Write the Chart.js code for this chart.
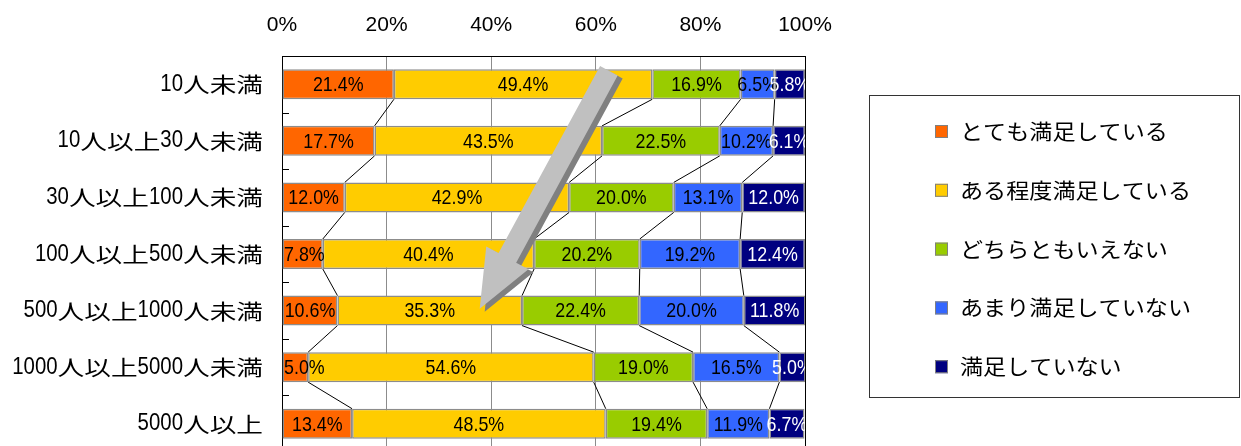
<!DOCTYPE html>
<html>
<head>
<meta charset="utf-8">
<script src="https://cdn.jsdelivr.net/npm/chart.js@4"></script>
<style>
  html, body { margin: 0; padding: 0; background: #fff; overflow: hidden; }
  canvas { display: block; }
</style>
</head>
<body>
<canvas id="myChart" width="1241" height="452"></canvas>
<script>
// companies by number of employees
const categories = ['10人未満', '10人以上30人未満', '30人以上100人未満', '100人以上500人未満',
    '500人以上1000人未満', '1000人以上5000人未満', '5000人以上']

const verySatisfied = [21.4, 17.7, 12.0, 7.8, 10.6, 5.0, 13.4]
const fairlySatisfied = [49.4, 43.5, 42.9, 40.4, 35.3, 54.6, 48.5]
const neither = [16.9, 22.5, 20.0, 20.2, 22.4, 19.0, 19.4]
const notVerySatisfied = [6.5, 10.2, 13.1, 19.2, 20.0, 16.5, 11.9]
const notSatisfied = [5.8, 6.1, 12.0, 12.4, 11.8, 5.0, 6.7]

const seriesNames = ['とても満足している', 'ある程度満足している', 'どちらともいえない', 'あまり満足していない', '満足していない']
const seriesColors = ['#FF6600', '#FFCC00', '#99CC00', '#3366FF', '#000080']
const labelColors = ['#000', '#000', '#000', '#000', '#fff']
const xTicks = [0, 20, 40, 60, 80, 100]

const ASCII_FONT = "'Liberation Sans', Arial, sans-serif"
const CJK_FONT = "'Noto Sans CJK JP', sans-serif"

// splits text into latin / japanese runs, each with its own font and width
function textRuns(ctx, text, opt) {
    let runs = []
    for (const ch of text) {
        const ascii = ch.charCodeAt(0) < 128
        if (runs.length && runs[runs.length - 1].ascii === ascii) {
            runs[runs.length - 1].text += ch
        } else {
            runs.push({ ascii: ascii, text: ch })
        }
    }
    runs.forEach(r => {
        r.font = r.ascii ? `${opt.aSize}px ${ASCII_FONT}` : `${opt.cSize}px ${CJK_FONT}`
        r.sx = r.ascii ? opt.aScale : opt.cScale
        ctx.font = r.font
        r.w = ctx.measureText(r.text).width * r.sx
    })
    return runs
}

function textWidth(ctx, text, opt) {
    return textRuns(ctx, text, opt).reduce((s, r) => s + r.w, 0)
}

function drawMixed(ctx, text, x, y, align, color, opt) {
    const runs = textRuns(ctx, text, opt)
    const total = runs.reduce((s, r) => s + r.w, 0)
    let cx = x
    if (align === 'right') cx = x - total
    else if (align === 'center') cx = x - total / 2
    ctx.fillStyle = color
    ctx.textAlign = 'left'
    ctx.textBaseline = 'middle'
    runs.forEach(r => {
        ctx.save()
        ctx.font = r.font
        ctx.translate(cx, y)
        ctx.scale(r.sx, 1)
        ctx.fillText(r.text, 0, 0)
        ctx.restore()
        cx += r.w
    })
}

const valueFont = { aSize: 21, aScale: 0.85, cSize: 21, cScale: 1 }

const extras = {
    id: 'extras',
    afterDatasetsDraw(chart) {
        const ctx = chart.ctx
        const area = chart.chartArea
        const xs = chart.scales.x
        const ys = chart.scales.y
        const metas = chart.data.datasets.map((d, i) => chart.getDatasetMeta(i))

        // series lines between neighbouring bars
        ctx.save()
        ctx.strokeStyle = '#000'
        ctx.lineWidth = 1
        for (let d = 0; d < metas.length - 1; d++) {
            const bars = metas[d].data
            for (let i = 0; i < bars.length - 1; i++) {
                const a = bars[i].getProps(['x', 'y', 'height'], true)
                const b = bars[i + 1].getProps(['x', 'y', 'height'], true)
                ctx.beginPath()
                ctx.moveTo(a.x, a.y + a.height / 2)
                ctx.lineTo(b.x, b.y - b.height / 2)
                ctx.stroke()
            }
        }
        ctx.restore()

        // value labels, kept off the left edge and clipped to the plot
        ctx.save()
        ctx.beginPath()
        ctx.rect(area.left, area.top, area.right - area.left, area.bottom - area.top)
        ctx.clip()
        metas.forEach((meta, d) => {
            const values = chart.data.datasets[d].data
            meta.data.forEach((bar, i) => {
                const p = bar.getProps(['x', 'y', 'base'], true)
                const txt = values[i].toFixed(1) + '%'
                const w = textWidth(ctx, txt, valueFont)
                const cx = Math.max((p.x + p.base) / 2, area.left + w / 2 + 2)
                drawMixed(ctx, txt, cx, p.y + 1, 'center', labelColors[d], valueFont)
            })
        })

        // grey arrow
        const tail = { x: xs.getPixelForValue(62.5), y: ys.getPixelForValue(-0.24) }
        const tip = { x: xs.getPixelForValue(37.8), y: ys.getPixelForValue(3.97) }
        const len = Math.hypot(tip.x - tail.x, tip.y - tail.y)
        const dx = (tip.x - tail.x) / len, dy = (tip.y - tail.y) / len
        const nx = dy, ny = -dx
        const headLen = 58, shaft = 10, head = 24
        const neck = { x: tip.x - dx * headLen, y: tip.y - dy * headLen }
        const pts = [
            [tail.x + nx * shaft, tail.y + ny * shaft],
            [neck.x + nx * shaft, neck.y + ny * shaft],
            [neck.x + nx * head, neck.y + ny * head],
            [tip.x, tip.y],
            [neck.x - nx * head, neck.y - ny * head],
            [neck.x - nx * shaft, neck.y - ny * shaft],
            [tail.x - nx * shaft, tail.y - ny * shaft]
        ]
        function arrowPath(ox, oy) {
            ctx.beginPath()
            pts.forEach((pt, k) => k ? ctx.lineTo(pt[0] + ox, pt[1] + oy) : ctx.moveTo(pt[0] + ox, pt[1] + oy))
            ctx.closePath()
        }
        ctx.fillStyle = '#808080'
        arrowPath(5, 3)
        ctx.fill()
        ctx.fillStyle = '#C0C0C0'
        arrowPath(0, 0)
        ctx.fill()
        ctx.restore()

        // plot frame: right edge and small inward ticks on the category axis
        ctx.save()
        ctx.strokeStyle = '#000'
        ctx.lineWidth = 1
        ctx.beginPath()
        ctx.moveTo(Math.round(area.right) + 0.5, area.top)
        ctx.lineTo(Math.round(area.right) + 0.5, area.bottom)
        for (let i = 0; i < categories.length - 1; i++) {
            const y = Math.round(ys.getPixelForValue(i + 0.5)) + 0.5
            ctx.moveTo(area.left, y)
            ctx.lineTo(area.left + 7, y)
        }
        ctx.stroke()
        ctx.restore()

        // category labels
        categories.forEach((c, i) => {
            drawMixed(ctx, c, area.left - 19, ys.getPixelForValue(i), 'right', '#000',
                { aSize: 24, aScale: 0.85, cSize: 21, cScale: 1.27 })
        })

        // legend box
        ctx.save()
        ctx.strokeStyle = '#333'
        ctx.lineWidth = 1
        ctx.strokeRect(869.5, 95.5, 370, 302)
        seriesNames.forEach((name, k) => {
            const y = 131 + 58.8 * k
            ctx.fillStyle = seriesColors[k]
            ctx.fillRect(935, y - 6, 13, 13)
            ctx.strokeStyle = '#808080'
            ctx.strokeRect(935.5, y - 5.5, 12, 12)
            drawMixed(ctx, name, 960, y, 'left', '#000',
                { aSize: 21, aScale: 0.9, cSize: 21, cScale: 1.1 })
        })
        ctx.restore()
    }
}

const seriesData = [verySatisfied, fairlySatisfied, neither, notVerySatisfied, notSatisfied]

let ctx = document.getElementById('myChart')
let myChart = new Chart(ctx, {
    type: 'bar',
    data: {
        labels: categories,
        datasets: seriesData.map((values, i) => ({
            label: seriesNames[i],
            data: values,
            backgroundColor: seriesColors[i],
            borderColor: '#8C8C8C',
            borderWidth: 1.5,
            borderSkipped: false,
            barPercentage: 1.0,
            categoryPercentage: 0.53
        }))
    },
    options: {
        indexAxis: 'y',
        responsive: false,
        animation: false,
        devicePixelRatio: 1,
        layout: { padding: { left: 0, right: 436, top: 0, bottom: 0 } },
        plugins: {
            legend: { display: false },
            tooltip: { enabled: false }
        },
        scales: {
            x: {
                position: 'top',
                stacked: true,
                min: 0,
                max: 100,
                afterBuildTicks: (scale) => { scale.ticks = xTicks.map(v => ({ value: v })) },
                afterFit: (scale) => { scale.height = 56 },
                ticks: {
                    callback: (v) => v + '%',
                    color: '#000',
                    padding: 18,
                    maxRotation: 0,
                    font: { family: ASCII_FONT, size: 21 }
                },
                grid: { color: '#8C8C8C', lineWidth: 1, drawTicks: false },
                border: { display: true, color: '#000', width: 1 }
            },
            y: {
                stacked: true,
                afterFit: (scale) => { scale.width = 282 },
                ticks: { display: false },
                grid: { display: false },
                border: { display: true, color: '#000', width: 1 }
            }
        }
    },
    plugins: [extras]
});
</script>
</body>
</html>
